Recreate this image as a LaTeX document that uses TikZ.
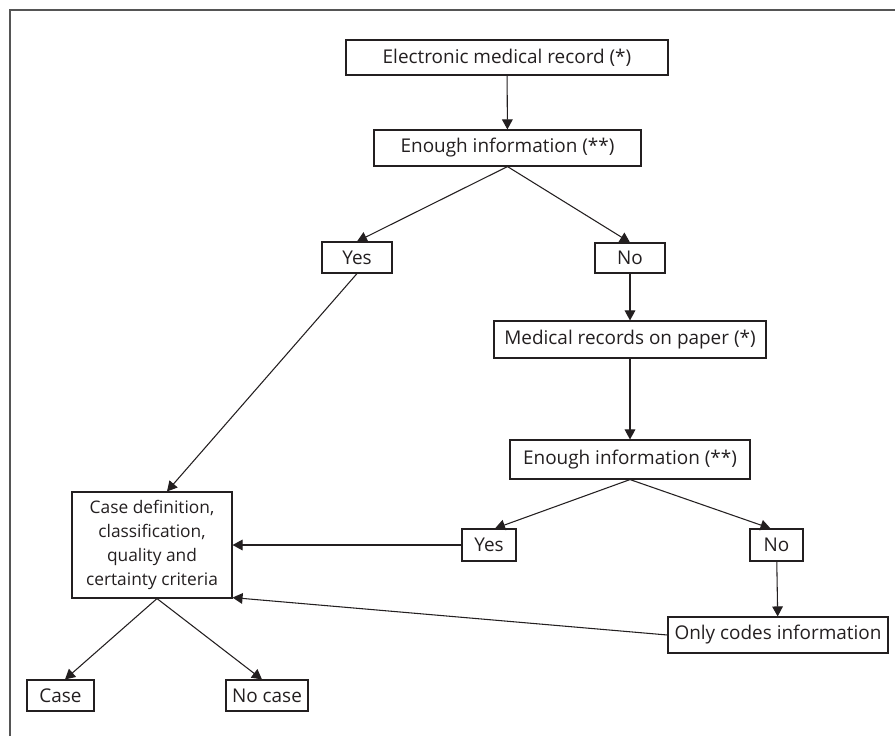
\documentclass[tikz,border=0pt]{standalone}
\usepackage{fontspec}
\setmainfont{Open Sans}
\usetikzlibrary{arrows.meta,calc}
\definecolor{lc}{HTML}{231F20}
\definecolor{fc}{HTML}{555555}
\begin{document}
\begin{tikzpicture}[x=0.75pt,y=-0.75pt,
  box/.style={draw=lc, line width=0.85pt, inner sep=0pt, text=lc,
    font=\fontsize{14.2}{17.8}\selectfont, align=center},
  arr/.style={draw=lc, line width=0.8pt, -{Triangle[length=7.5pt,width=8pt]}},
  ln/.style={draw=lc, line width=0.8pt}]
\useasboundingbox (0,0) rectangle (895,736);
\draw[fc, line width=1.4pt] (10,736) -- (10,10) -- (895,10);
\node[box, minimum width={0.75pt*322}, minimum height={0.75pt*35}] (e1) at (507,57.5) {Electronic medical record (*)};
\node[box, minimum width={0.75pt*267}, minimum height={0.75pt*36}] (e2) at (507.5,148) {Enough information (**)};
\node[box, minimum width={0.75pt*70}, minimum height={0.75pt*31}] (yes1) at (357,257.5) {Yes};
\node[box, minimum width={0.75pt*70}, minimum height={0.75pt*30}] (no1) at (630,258) {No};
\node[box, minimum width={0.75pt*272}, minimum height={0.75pt*37}] (mrp) at (630,339.5) {Medical records on paper (*)};
\node[box, minimum width={0.75pt*240}, minimum height={0.75pt*39}] (e3) at (630,459.5) {Enough information (**)};
\node[box, minimum width={0.75pt*54}, minimum height={0.75pt*32}] (yes2) at (489,545) {Yes};
\node[box, minimum width={0.75pt*53}, minimum height={0.75pt*32}] (no2) at (776.5,545) {No};
\node[box, minimum width={0.75pt*220}, minimum height={0.75pt*36}] (oci) at (778,635) {Only codes information};
\node[box, font=\fontsize{13}{17.8}\selectfont, minimum width={0.75pt*160}, minimum height={0.75pt*106}] (cd) at (152,545) {Case definition,\\classification,\\quality and\\certainty criteria};
\node[box, minimum width={0.75pt*67}, minimum height={0.75pt*31}] (case) at (60.5,695.5) {Case};
\node[box, minimum width={0.75pt*82}, minimum height={0.75pt*31}] (nocase) at (267,695.5) {No case};
\draw[arr] (e1) -- (e2);
\draw[arr] (e2.south) -- (yes1.north);
\draw[arr] (e2.south) -- (no1.north);
\draw[arr] (yes1.south) -- ($(cd.north)+(15,0)$);
\draw[arr] (no1) -- (mrp);
\draw[arr] (mrp) -- (e3);
\draw[arr] (e3.south) -- ($(yes2.north)+(6,0)$);
\draw[arr] (e3.south) -- ($(no2.north)+(-6,0)$);
\draw[arr] (yes2.west) -- (cd.east);
\draw[arr] (no2) -- (oci);
\draw[arr] (oci.west) -- ($(cd.south east)+(0,-1)$);
\draw[arr] ($(cd.south)+(5,0)$) -- ($(case.north)+(4.5,0)$);
\draw[arr] ($(cd.south)+(5,0)$) -- ($(nocase.north)+(-5,0)$);
\end{tikzpicture}
\end{document}
